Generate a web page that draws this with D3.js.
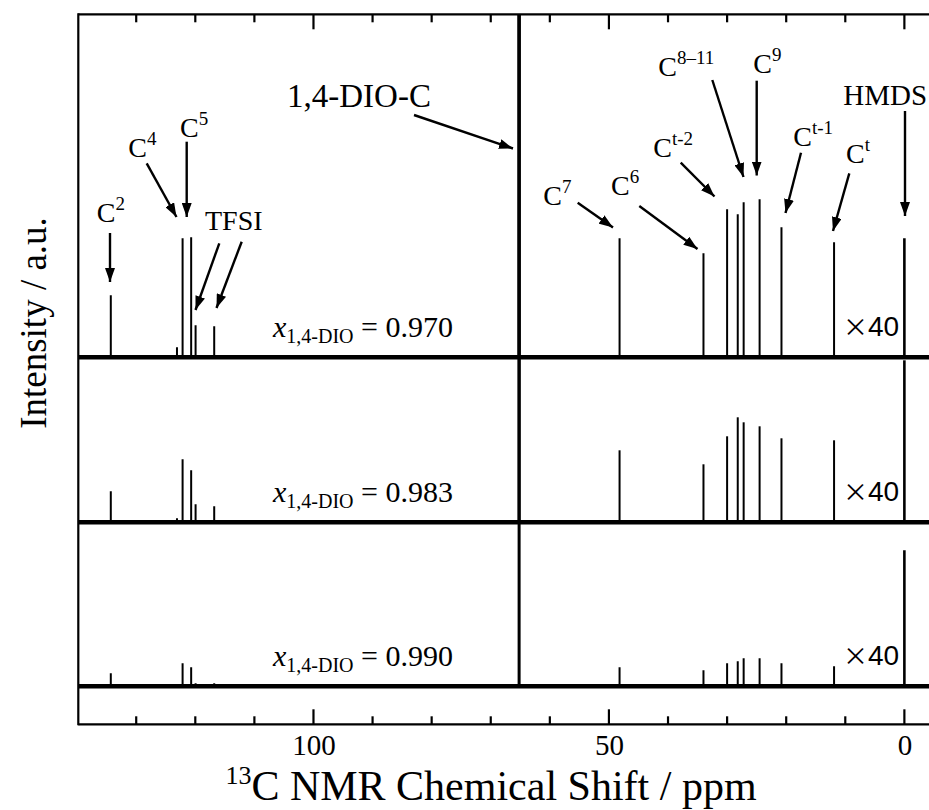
<!DOCTYPE html>
<html>
<head>
<meta charset="utf-8">
<script src="https://cdn.jsdelivr.net/npm/d3@7"></script>
<style>
  body { margin: 0; background: #fff; }
  svg text { font-family: "Liberation Serif", "Times New Roman", serif; fill: #000; }
  .axis path { display: none; }
  .axis text { font-size: 29px; font-family: "Liberation Serif", serif; }
</style>
</head>
<body>
<svg id="chart" width="929" height="810"></svg>
<script>
// peak positions (ppm)
var peakPpm = [134.3, 123.1, 122.15, 120.7, 119.95, 116.8, 65.2, 48.2, 34.0, 30.0, 28.2, 27.2, 24.5, 20.8, 11.9, 0.0]
// peak heights (a.u., before stacking)
var int970 = [62, 10, 119, 120, 32, 31, 2000, 119, 104, 148, 143, 155, 158, 130, 115, 119]
var int983 = [31, 4, 63, 52, 18, 16, 2000, 72, 58, 86, 105, 100, 96, 84, 82, 162]
var int990 = [13, 2, 23, 19, 3, 3, 2000, 19, 16, 23, 25, 28, 28, 23, 20, 136]
var seriesNames = ["0.970", "0.983", "0.990"]
var seriesOffset = [367, 202, 38]
var majorTicks = [0, 50, 100]
var minorTicks = [10, 20, 30, 40, 60, 70, 80, 90, 110, 120, 130]

var svg = d3.select("#chart")

// plot area
var plotLeft = 78.3, plotTop = 14.3, plotBottom = 724.3
var x = d3.scaleLinear().domain([139.8, -5]).range([plotLeft, plotLeft + 144.8 * 5.909])
var y = d3.scaleLinear().domain([0, 710]).range([plotBottom, plotTop])

svg.append("clipPath").attr("id", "plotClip")
  .append("rect")
  .attr("x", plotLeft).attr("y", plotTop)
  .attr("width", x(-5) - plotLeft).attr("height", plotBottom - plotTop)

var plot = svg.append("g").attr("clip-path", "url(#plotClip)")

var allSeries = [int970, int983, int990]

allSeries.forEach(function(vals, s) {
  var off = seriesOffset[s]
  // baseline (noise band)
  plot.append("line")
    .attr("x1", x(139.8)).attr("x2", x(-5))
    .attr("y1", y(off)).attr("y2", y(off))
    .attr("stroke", "#000").attr("stroke-width", 4.5)

  plot.selectAll(".pk" + s)
    .data(vals)
    .enter()
    .append("line")
    .attr("class", "pk" + s)
    .attr("x1", function(d, i) { return x(peakPpm[i]) })
    .attr("x2", function(d, i) { return x(peakPpm[i]) })
    .attr("y1", y(off))
    .attr("y2", function(d) { return y(off + d) })
    .attr("stroke", "#000")
    .attr("stroke-width", function(d, i) { return peakPpm[i] == 65.2 ? 3 : (peakPpm[i] == 0 ? 2.6 : 2) })
})

// frame
svg.append("line").attr("x1", plotLeft).attr("x2", plotLeft).attr("y1", plotTop - 1).attr("y2", plotBottom + 1)
  .attr("stroke", "#000").attr("stroke-width", 2.2)
svg.append("line").attr("x1", plotLeft).attr("x2", 929).attr("y1", plotTop).attr("y2", plotTop)
  .attr("stroke", "#000").attr("stroke-width", 2.2)
svg.append("line").attr("x1", plotLeft).attr("x2", 929).attr("y1", plotBottom).attr("y2", plotBottom)
  .attr("stroke", "#000").attr("stroke-width", 2.2)

// tick labels from the axis
svg.append("g").attr("class", "axis")
  .attr("transform", "translate(0," + plotBottom + ")")
  .call(d3.axisBottom(x).tickValues(majorTicks).tickSize(0).tickPadding(10).tickFormat(d3.format("d")))

// inward tick marks, bottom and top
var tickData = majorTicks.map(function(v) { return { v: v, len: 15 } })
  .concat(minorTicks.map(function(v) { return { v: v, len: 8 } }))
var tickG = svg.append("g")
tickG.selectAll(".tb").data(tickData).enter().append("line")
  .attr("class", "tb")
  .attr("x1", function(d) { return x(d.v) }).attr("x2", function(d) { return x(d.v) })
  .attr("y1", plotBottom).attr("y2", function(d) { return plotBottom - d.len })
  .style("stroke", "#000").style("stroke-width", "2.2px")
tickG.selectAll(".tt").data(tickData).enter().append("line")
  .attr("class", "tt")
  .attr("x1", function(d) { return x(d.v) }).attr("x2", function(d) { return x(d.v) })
  .attr("y1", plotTop).attr("y2", function(d) { return plotTop + d.len })
  .style("stroke", "#000").style("stroke-width", "2.2px")

// axis titles
var xt = svg.append("text").attr("x", 491).attr("y", 800).attr("text-anchor", "middle").style("font-size", "42px")
xt.append("tspan").text("13").style("font-size", "26px").attr("dy", -16)
xt.append("tspan").text("C NMR Chemical Shift / ppm").attr("dy", 16)

svg.append("text")
  .attr("transform", "translate(46,323) rotate(-90)")
  .attr("text-anchor", "middle")
  .style("font-size", "37px")
  .text("Intensity / a.u.")

// series labels
var labelY = [337, 501.7, 666]
seriesNames.forEach(function(n, s) {
  var t = svg.append("text").attr("x", 273).attr("y", labelY[s]).style("font-size", "30px")
  t.append("tspan").text("x").style("font-style", "italic")
  t.append("tspan").text("1,4-DIO").style("font-size", "20px").attr("dy", 6)
  t.append("tspan").text(" = " + n).attr("dy", -6)

  var m = svg.append("text").attr("x", 843).attr("y", labelY[s] - 1)
    .style("font-family", "'Liberation Sans', Arial, sans-serif")
    .style("font-size", "27px")
  m.append("tspan").text("\u00d7").style("font-family", "'Noto Sans CJK JP', sans-serif").style("font-size", "25px")
  m.append("tspan").text("40").style("font-size", "28px")
})

// arrow head
svg.append("defs").append("marker")
  .attr("id", "head")
  .attr("markerUnits", "userSpaceOnUse")
  .attr("viewBox", "0 0 14 10")
  .attr("refX", 14).attr("refY", 5)
  .attr("markerWidth", 14).attr("markerHeight", 10)
  .attr("orient", "auto")
  .append("path").attr("d", "M0,0 L14,5 L0,10 Z").attr("fill", "#000")

var notes = [
  { t: "C", sup: "2", x: 96.7, y: 221.7, arrows: [[110, 233, 110, 282]] },
  { t: "C", sup: "4", x: 128.3, y: 156.7, arrows: [[146.7, 163.3, 176.5, 217]] },
  { t: "C", sup: "5", x: 180, y: 136.7, arrows: [[186.7, 141.7, 186.7, 217]] },
  { t: "TFSI", x: 205, y: 230, arrows: [[219.3, 243.3, 195.5, 310], [241.7, 241.7, 216.5, 308]] },
  { t: "1,4-DIO-C", x: 287, y: 107, size: 33, arrows: [[414, 115, 513, 148.5]] },
  { t: "C", sup: "7", x: 543.3, y: 205, arrows: [[577.7, 202.7, 613, 227.5]] },
  { t: "C", sup: "6", x: 611, y: 195, arrows: [[639.3, 206, 697.5, 249]] },
  { t: "C", sup: "t-2", x: 653.3, y: 156.7, arrows: [[680.7, 162.7, 714.5, 196.5]] },
  { t: "C", sup: "8\u201311", x: 658.3, y: 76, arrows: [[712.3, 80, 743.5, 177]] },
  { t: "C", sup: "9", x: 753.3, y: 72.7, arrows: [[756.7, 80.7, 756.7, 175.5]] },
  { t: "C", sup: "t-1", x: 793.3, y: 146, arrows: [[801, 152.7, 785.5, 213]] },
  { t: "C", sup: "t", x: 846, y: 163.3, arrows: [[849.3, 173.3, 833, 231]] },
  { t: "HMDS", x: 843.3, y: 105, size: 29, arrows: [[905, 111, 905, 216]] }
]

notes.forEach(function(n) {
  var t = svg.append("text").attr("x", n.x).attr("y", n.y).style("font-size", (n.size || 28) + "px")
  t.append("tspan").text(n.t)
  if (n.sup) t.append("tspan").text(n.sup).style("font-size", "19px").attr("dy", -12)
  n.arrows.forEach(function(a) {
    svg.append("line")
      .attr("x1", a[0]).attr("y1", a[1]).attr("x2", a[2]).attr("y2", a[3])
      .attr("stroke", "#000").attr("stroke-width", 2.4)
      .attr("marker-end", "url(#head)")
  })
})
</script>
</body>
</html>
